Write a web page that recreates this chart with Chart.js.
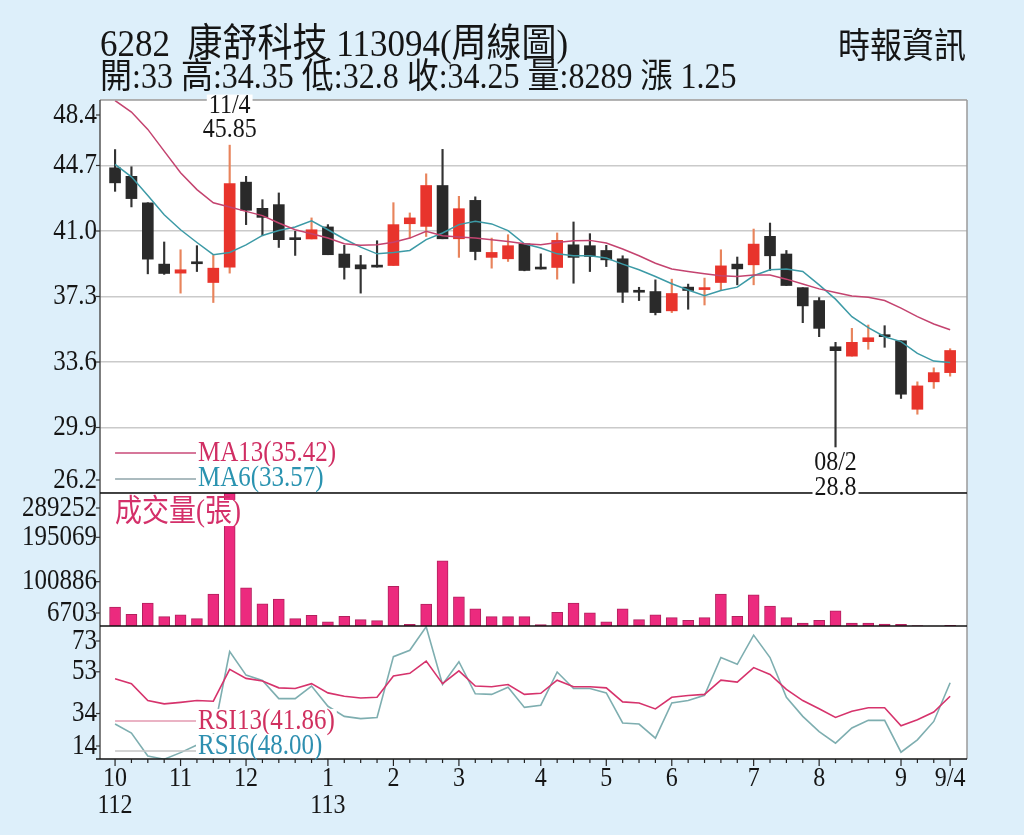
<!DOCTYPE html>
<html>
<head>
<meta charset="utf-8">
<script src="https://cdn.jsdelivr.net/npm/chart.js@4.4.1/dist/chart.umd.min.js"></script>
<style>
    body { margin: 0; background: #DDEFFA; font-family: "Liberation Serif", "Noto Sans CJK TC", serif; }
    #wrap { position: relative; width: 1024px; height: 835px; overflow: hidden; }
    #c { position: absolute; left: 0; top: 0; }
    .t { position: absolute; color: #151515; white-space: pre; line-height: 1; transform: scaleY(1.1); transform-origin: left center; }
</style>
</head>
<body>
<div id="wrap">
    <canvas id="c" width="1024" height="835"></canvas>
    <div class="t" style="left:100px;top:26px;font-size:35px">6282  康舒科技 113094(周線圖)</div>
    <div class="t" style="left:100px;top:60px;font-size:32px">開:33 高:34.35 低:32.8 收:34.25 量:8289 漲 1.25</div>
    <div class="t" style="left:838px;top:30px;font-size:32px">時報資訊</div>
</div>
<script>
// weekly candles, oldest first
const openP = [44.57, 44.09, 42.59, 39.13, 38.62, 39.15, 38.09, 38.96, 43.76, 42.28, 42.49, 40.51, 40.55, 41.23, 39.70, 39.09, 38.96, 39.05, 41.41, 41.26, 43.57, 40.56, 42.73, 39.51, 39.43, 40.28, 38.85, 38.94, 40.22, 40.17, 39.90, 39.43, 37.54, 37.58, 36.49, 37.83, 37.69, 38.09, 39.13, 39.09, 40.70, 39.70, 37.80, 37.07, 34.46, 33.93, 34.75, 35.03, 34.80, 30.93, 32.48, 33]
const highP = [45.6, 44.63, 42.6, 40.38, 39.94, 40.17, 39.62, 45.85, 44.09, 42.77, 43.15, 40.98, 41.74, 41.36, 40.19, 39.62, 40.45, 42.6, 42.02, 44.23, 45.61, 42.96, 42.93, 40.60, 40.79, 40.3, 39.71, 40.89, 41.51, 40.85, 40.19, 39.60, 37.82, 38.24, 38.28, 38.0, 38.34, 39.94, 39.53, 41.11, 41.45, 39.90, 37.8, 37.24, 34.71, 35.50, 35.69, 35.65, 34.8, 32.48, 33.27, 34.35]
const lowP = [43.24, 42.36, 38.58, 38.55, 37.49, 38.71, 36.96, 38.62, 41.36, 40.73, 40.07, 39.62, 40.55, 39.66, 38.28, 37.49, 38.96, 39.05, 40.60, 40.69, 40.56, 39.51, 39.37, 38.90, 39.28, 38.75, 38.85, 38.28, 38.05, 38.71, 38.99, 36.96, 37.07, 36.26, 36.39, 36.58, 36.82, 37.67, 37.96, 37.96, 38.77, 37.92, 35.82, 35.03, 28.8, 33.93, 34.32, 34.43, 31.54, 30.65, 32.11, 32.8]
const closeP = [43.72, 42.83, 39.41, 38.6, 38.81, 39.15, 38.90, 43.68, 42.17, 41.77, 40.51, 40.51, 41.07, 39.66, 38.94, 38.86, 38.96, 41.36, 41.74, 43.57, 40.56, 42.26, 39.84, 39.79, 40.17, 38.77, 38.85, 40.47, 39.51, 39.56, 39.37, 37.54, 37.54, 36.39, 37.47, 37.64, 37.73, 39.03, 38.86, 40.26, 39.60, 37.92, 36.77, 35.50, 34.24, 34.71, 34.97, 35.03, 31.78, 32.25, 33.0, 34.25]
const ma13 = [48.37, 47.72, 46.74, 45.51, 44.29, 43.34, 42.59, 42.36, 42.11, 41.87, 41.45, 41.07, 40.85, 40.60, 40.28, 40.19, 40.22, 40.36, 40.60, 40.98, 40.73, 40.66, 40.60, 40.51, 40.41, 40.28, 40.22, 40.35, 40.45, 40.47, 40.32, 39.98, 39.60, 39.18, 38.85, 38.71, 38.58, 38.47, 38.43, 38.52, 38.52, 38.28, 38.01, 37.73, 37.52, 37.33, 37.26, 37.07, 36.64, 36.16, 35.75, 35.42]
const ma6 = [44.76, 44.06, 43.0, 41.92, 41.07, 40.35, 39.66, 39.79, 40.22, 40.75, 41.03, 41.23, 41.58, 41.07, 40.55, 40.09, 39.71, 39.78, 39.90, 40.51, 40.89, 41.36, 41.55, 41.40, 41.02, 40.28, 40.04, 39.71, 39.60, 39.60, 39.47, 39.13, 38.81, 38.43, 38.02, 37.67, 37.35, 37.64, 37.83, 38.47, 38.81, 38.85, 38.71, 37.96, 37.15, 36.16, 35.54, 35.03, 34.75, 34.09, 33.65, 33.57]
const volume = [46700, 31700, 55300, 26700, 30200, 22400, 74500, 289252, 88000, 53800, 63800, 22400, 29600, 15300, 27400, 20200, 18000, 90800, 10300, 53100, 145200, 68800, 43100, 26700, 26700, 26700, 9500, 36000, 55300, 34500, 15300, 43100, 20200, 30200, 24500, 18900, 24500, 74500, 27400, 73100, 48900, 24500, 13100, 18900, 38800, 13100, 13100, 11000, 10300, 7800, 6703, 8289]
const rsi13 = [49.8, 47.6, 39.9, 38.4, 39.1, 39.9, 39.6, 54.1, 50.0, 48.8, 45.7, 45.4, 47.6, 43.4, 41.9, 41.1, 41.4, 51.1, 52.3, 57.9, 47.6, 53.4, 46.5, 46.2, 47.2, 42.7, 43.2, 49.2, 46.2, 46.2, 45.7, 39.3, 38.8, 36.1, 41.4, 42.2, 42.7, 49.2, 48.3, 54.9, 51.8, 45.0, 39.9, 36.2, 32.2, 35.0, 36.6, 36.6, 28.4, 31.2, 34.7, 41.86]
const rsi6 = [29.2, 25.1, 14.7, 13.2, 16.2, 19.7, 24.5, 62.2, 51.5, 49.1, 40.8, 40.8, 46.5, 37.3, 32.7, 31.7, 32.2, 59.9, 62.8, 73.5, 47.2, 57.6, 43.0, 42.7, 46.0, 36.8, 37.8, 52.9, 45.4, 45.4, 43.4, 29.7, 29.2, 22.8, 38.8, 39.9, 42.3, 59.5, 56.4, 69.7, 59.5, 41.4, 32.7, 25.8, 20.5, 27.4, 30.9, 30.9, 16.4, 22.0, 30.4, 48.0]

const priceTicks = [48.4, 44.7, 41.0, 37.3, 33.6, 29.9, 26.2]
const volTicks = [289252, 195069, 100886, 6703]
const rsiTicks = [73, 53, 34, 14]
const monthIdx = [0, 4, 8, 13, 17, 21, 26, 30, 34, 39, 43, 48, 51]
const monthText = [["10", "112"], ["11"], ["12"], ["1", "113"], ["2"], ["3"], ["4"], ["5"], ["6"], ["7"], ["8"], ["9"], ["9/4"]]
// high / low callouts
const noteHigh = { idx: 7, date: "11/4" }
const noteLow = { idx: 44, date: "08/2" }

const FONT = '"Liberation Serif", "Noto Sans CJK TC", serif'
const RED = "#E8342C", BLACK = "#2A2A2A"
const up = openP.map((o, i) => closeP[i] > o)
const pts = arr => arr.map((v, i) => ({ x: i, y: v }))

function txt(ctx, s, x, y, o = {}) {
    const size = o.size || 25
    ctx.save()
    ctx.font = size + "px " + FONT
    ctx.textAlign = o.align || "center"
    ctx.textBaseline = "middle"
    const w = ctx.measureText(s).width
    ctx.translate(x, y)
    ctx.scale(1, 1.15)
    if (o.bg) {
        const lx = ctx.textAlign === "left" ? 0 : ctx.textAlign === "right" ? -w : -w / 2
        ctx.fillStyle = o.bg
        ctx.fillRect(lx - 2, -size * 0.42, w + 4, size * 0.84)
    }
    ctx.fillStyle = o.color || "#151515"
    ctx.fillText(s, 0, 0)
    ctx.restore()
}

function seg(ctx, x1, y1, x2, y2, color, w) {
    ctx.beginPath()
    ctx.strokeStyle = color
    ctx.lineWidth = w
    ctx.moveTo(x1, y1)
    ctx.lineTo(x2, y2)
    ctx.stroke()
}

const deco = {
    id: "deco",
    beforeDraw(chart) {
        const { ctx, chartArea: a } = chart
        ctx.save()
        ctx.fillStyle = "#fff"
        ctx.fillRect(a.left, a.top, a.right - a.left, a.bottom - a.top)
        ctx.restore()
    },
    afterDraw(chart) {
        const ctx = chart.ctx
        const { x, yP, yV, yR } = chart.scales
        const L = x.left, R = x.right
        ctx.save()

        // frame
        seg(ctx, L, yP.top, R, yP.top, "#A5A5A5", 1.5)
        seg(ctx, R, yP.top, R, yR.bottom, "#9A9A9A", 1.5)
        seg(ctx, L, yP.top, L, yR.bottom, "#555", 1.5)
        seg(ctx, L, yP.bottom, R, yP.bottom, "#111", 1.5)
        seg(ctx, L, yV.bottom, R, yV.bottom, "#111", 1.5)
        seg(ctx, L - 4, yR.bottom, R, yR.bottom, "#111", 1.5)

        // y labels
        const axes = [
            [yP, priceTicks, v => v.toFixed(1)],
            [yV, volTicks, v => String(v)],
            [yR, rsiTicks, v => String(v)],
        ]
        for (const [s, ticks, fmt] of axes) {
            for (const v of ticks) {
                const y = Math.min(Math.max(s.getPixelForValue(v), s.top + 15), s.bottom - 13)
                seg(ctx, L - 4, y, L, y, "#333", 1.2)
                txt(ctx, fmt(v), L - 3, y, { align: "right", size: 25 })
            }
        }

        // x ticks + month labels
        for (let i = 0; i < closeP.length; i++) {
            const px = x.getPixelForValue(i)
            const major = monthIdx.includes(i)
            seg(ctx, px, yR.bottom, px, yR.bottom + (major ? 7 : 4), "#222", 1.2)
        }
        monthIdx.forEach((i, k) => {
            const px = x.getPixelForValue(i)
            monthText[k].forEach((s, j) => txt(ctx, s, px, yR.bottom + 20 + j * 27, { size: 24 }))
        })

        // legends
        const x0 = x.getPixelForValue(0), xt = 198
        const legends = [
            [yP.bottom - 40, yP.bottom - 40, "MA13(" + ma13[ma13.length - 1].toFixed(2) + ")", "#C84A78", "#D02E63"],
            [yP.bottom - 14, yP.bottom - 15, "MA6(" + ma6[ma6.length - 1].toFixed(2) + ")", "#8FA5AA", "#2A93B0"],
            [yR.bottom - 38, yR.bottom - 38, "RSI13(" + rsi13[rsi13.length - 1].toFixed(2) + ")", "#E39AB0", "#D0305F"],
            [yR.bottom - 8, yR.bottom - 13, "RSI6(" + rsi6[rsi6.length - 1].toFixed(2) + ")", "#C4C4C4", "#2E8FB0"],
        ]
        for (const [ly, ty, s, lc, tc] of legends) {
            seg(ctx, x0, ly, xt, ly, lc, 1.3)
            txt(ctx, s, xt, ty, { align: "left", size: 25, color: tc, bg: "#fff" })
        }
        txt(ctx, "成交量(張)", x0, yV.top + 20, { align: "left", size: 27, color: "#D4306A", bg: "#fff" })

        // high / low callouts
        const hx = x.getPixelForValue(noteHigh.idx), hy = yP.getPixelForValue(highP[noteHigh.idx])
        txt(ctx, noteHigh.date, hx, hy - 39, { size: 24, bg: "#fff" })
        txt(ctx, String(highP[noteHigh.idx]), hx, hy - 15, { size: 24, bg: "#fff" })
        const lx = x.getPixelForValue(noteLow.idx), ly = yP.getPixelForValue(lowP[noteLow.idx])
        txt(ctx, noteLow.date, lx, ly + 16, { size: 24, bg: "#fff" })
        txt(ctx, String(lowP[noteLow.idx]), lx, ly + 41, { size: 24, bg: "#fff" })

        ctx.restore()
    },
}

const hidden = { display: false }
const yBase = {
    type: "linear",
    position: "left",
    stack: "panels",
    ticks: { display: false },
    border: { display: false },
    grid: { display: false, drawTicks: false },
    afterFit: s => { s.width = 0 },
}

new Chart(document.getElementById("c"), {
    type: "bar",
    data: {
        datasets: [
            { type: "line", data: pts(ma13), yAxisID: "yP", borderColor: "#C4436F", borderWidth: 1.5, pointRadius: 0 },
            { type: "line", data: pts(ma6), yAxisID: "yP", borderColor: "#3C9AA6", borderWidth: 1.5, pointRadius: 0 },
            {
                data: openP.map((o, i) => ({ x: i, y: [Math.min(o, closeP[i]), Math.max(o, closeP[i])] })),
                yAxisID: "yP", grouped: false, barThickness: 11, minBarLength: 2,
                backgroundColor: up.map(u => (u ? RED : BLACK)),
            },
            {
                data: lowP.map((l, i) => ({ x: i, y: [l, highP[i]] })),
                yAxisID: "yP", grouped: false, barThickness: 1.5,
                backgroundColor: up.map(u => (u ? "#E8845C" : "#333")),
            },
            {
                data: pts(volume), yAxisID: "yV", grouped: false, barThickness: 11,
                backgroundColor: "#EC2A7E", borderColor: "#B2215E", borderWidth: 1,
            },
            { type: "line", data: pts(rsi13), yAxisID: "yR", borderColor: "#D6336C", borderWidth: 1.6, pointRadius: 0 },
            { type: "line", data: pts(rsi6), yAxisID: "yR", borderColor: "#7EAEB0", borderWidth: 1.6, pointRadius: 0 },
        ],
    },
    options: {
        responsive: false,
        animation: false,
        layout: { padding: { left: 100, right: 57, top: 100, bottom: 76 } },
        plugins: { legend: hidden, tooltip: { enabled: false } },
        scales: {
            x: { type: "linear", min: -0.92, max: 52.03, offset: false, grid: { offset: false }, display: false },
            yP: {
                ...yBase, weight: 3, stackWeight: 393, min: 26.2, max: 48.4,
                afterBuildTicks: s => { s.ticks = priceTicks.map(v => ({ value: v })) },
                grid: { display: true, drawTicks: false, color: "#CACACA", lineWidth: 1.5 },
            },
            yV: { ...yBase, weight: 2, stackWeight: 133, min: 6703, max: 289252 },
            yR: { ...yBase, weight: 1, stackWeight: 133, min: 13.3, max: 73.85 },
        },
    },
    plugins: [deco],
})
</script>
</body>
</html>
